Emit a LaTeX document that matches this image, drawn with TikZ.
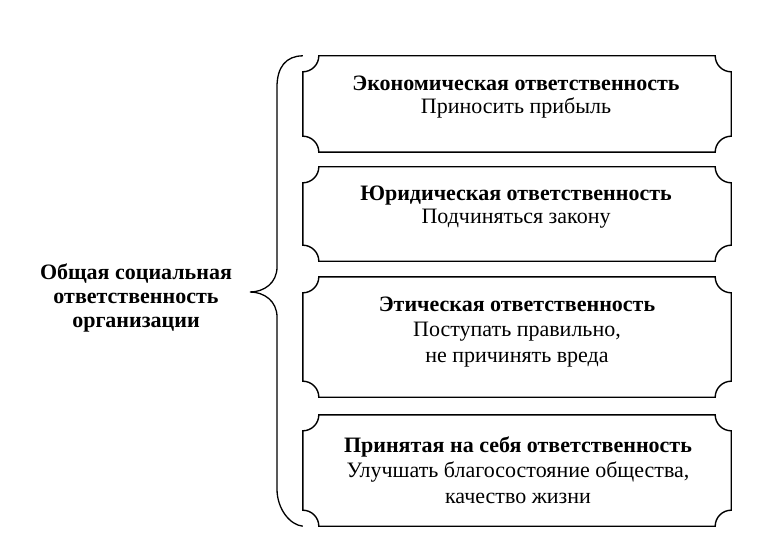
\documentclass[tikz,border=0pt]{standalone}
\usepackage{fontspec}
\setmainfont{Liberation Serif}
\begin{document}
\begin{tikzpicture}[x=1pt,y=1pt,
  ticket/.style={draw=none,minimum width=428pt,inner sep=0pt},
  boxtext/.style={align=center,anchor=base,inner sep=0pt,font=\fontsize{22}{23}\selectfont},
  boxtextwide/.style={boxtext,font=\fontsize{22}{25.5}\selectfont},
  lefttext/.style={align=center,anchor=base,inner sep=0pt,font=\fontsize{22}{24}\selectfont\bfseries},
  outline/.style={line width=1.4pt,black},
  bracestyle/.style={line width=1.3pt,black}]
\useasboundingbox (0,0) rectangle (773,539);
\fill[white] (0,0) rectangle (773,539);
\newcommand{\ticketoutline}[1]{%
  \draw[outline] ([xshift=16pt]#1.north west) -- ([xshift=-16pt]#1.north east)
    arc[start angle=180,end angle=270,radius=16pt]
    -- ([yshift=16pt]#1.south east)
    arc[start angle=90,end angle=180,radius=16pt]
    -- ([xshift=16pt]#1.south west)
    arc[start angle=0,end angle=90,radius=16pt]
    -- ([yshift=-16pt]#1.north west)
    arc[start angle=270,end angle=360,radius=16pt] -- cycle;}
\node[ticket,minimum height=96pt] (b1) at (517,435) {};
\node[ticket,minimum height=94pt] (b2) at (517,325) {};
\node[ticket,minimum height=120pt] (b3) at (517,202) {};
\node[ticket,minimum height=111pt] (b4) at (517,68.5) {};
\ticketoutline{b1}
\ticketoutline{b2}
\ticketoutline{b3}
\ticketoutline{b4}
\node[boxtext] (t1) at (516,425) {\textbf{Экономическая ответственность}\\Приносить прибыль};
\node[boxtext] (t2) at (516,316) {\textbf{Юридическая ответственность}\\Подчиняться закону};
\node[boxtextwide] (t3) at (517,177) {\textbf{Этическая ответственность}\\Поступать правильно,\\не причинять вреда};
\node[boxtextwide] (t4) at (518,36) {\textbf{Принятая на себя ответственность}\\Улучшать благосостояние общества,\\качество жизни};
\node[lefttext] (lt) at (136,212) {Общая социальная\\ответственность\\организации};
\coordinate (bt) at (b1.north west);
\coordinate (bb) at (b4.south west);
\coordinate (tip) at (250,247);
\draw[bracestyle] (bt) .. controls (286,483) and (277,472) .. (277,452)
  -- (277,272) .. controls (277,256) and (264,247) .. (tip)
  .. controls (264,247) and (277,238) .. (277,222)
  -- (277,50) .. controls (277,30) and (290,14) .. (bb);
\end{tikzpicture}
\end{document}
